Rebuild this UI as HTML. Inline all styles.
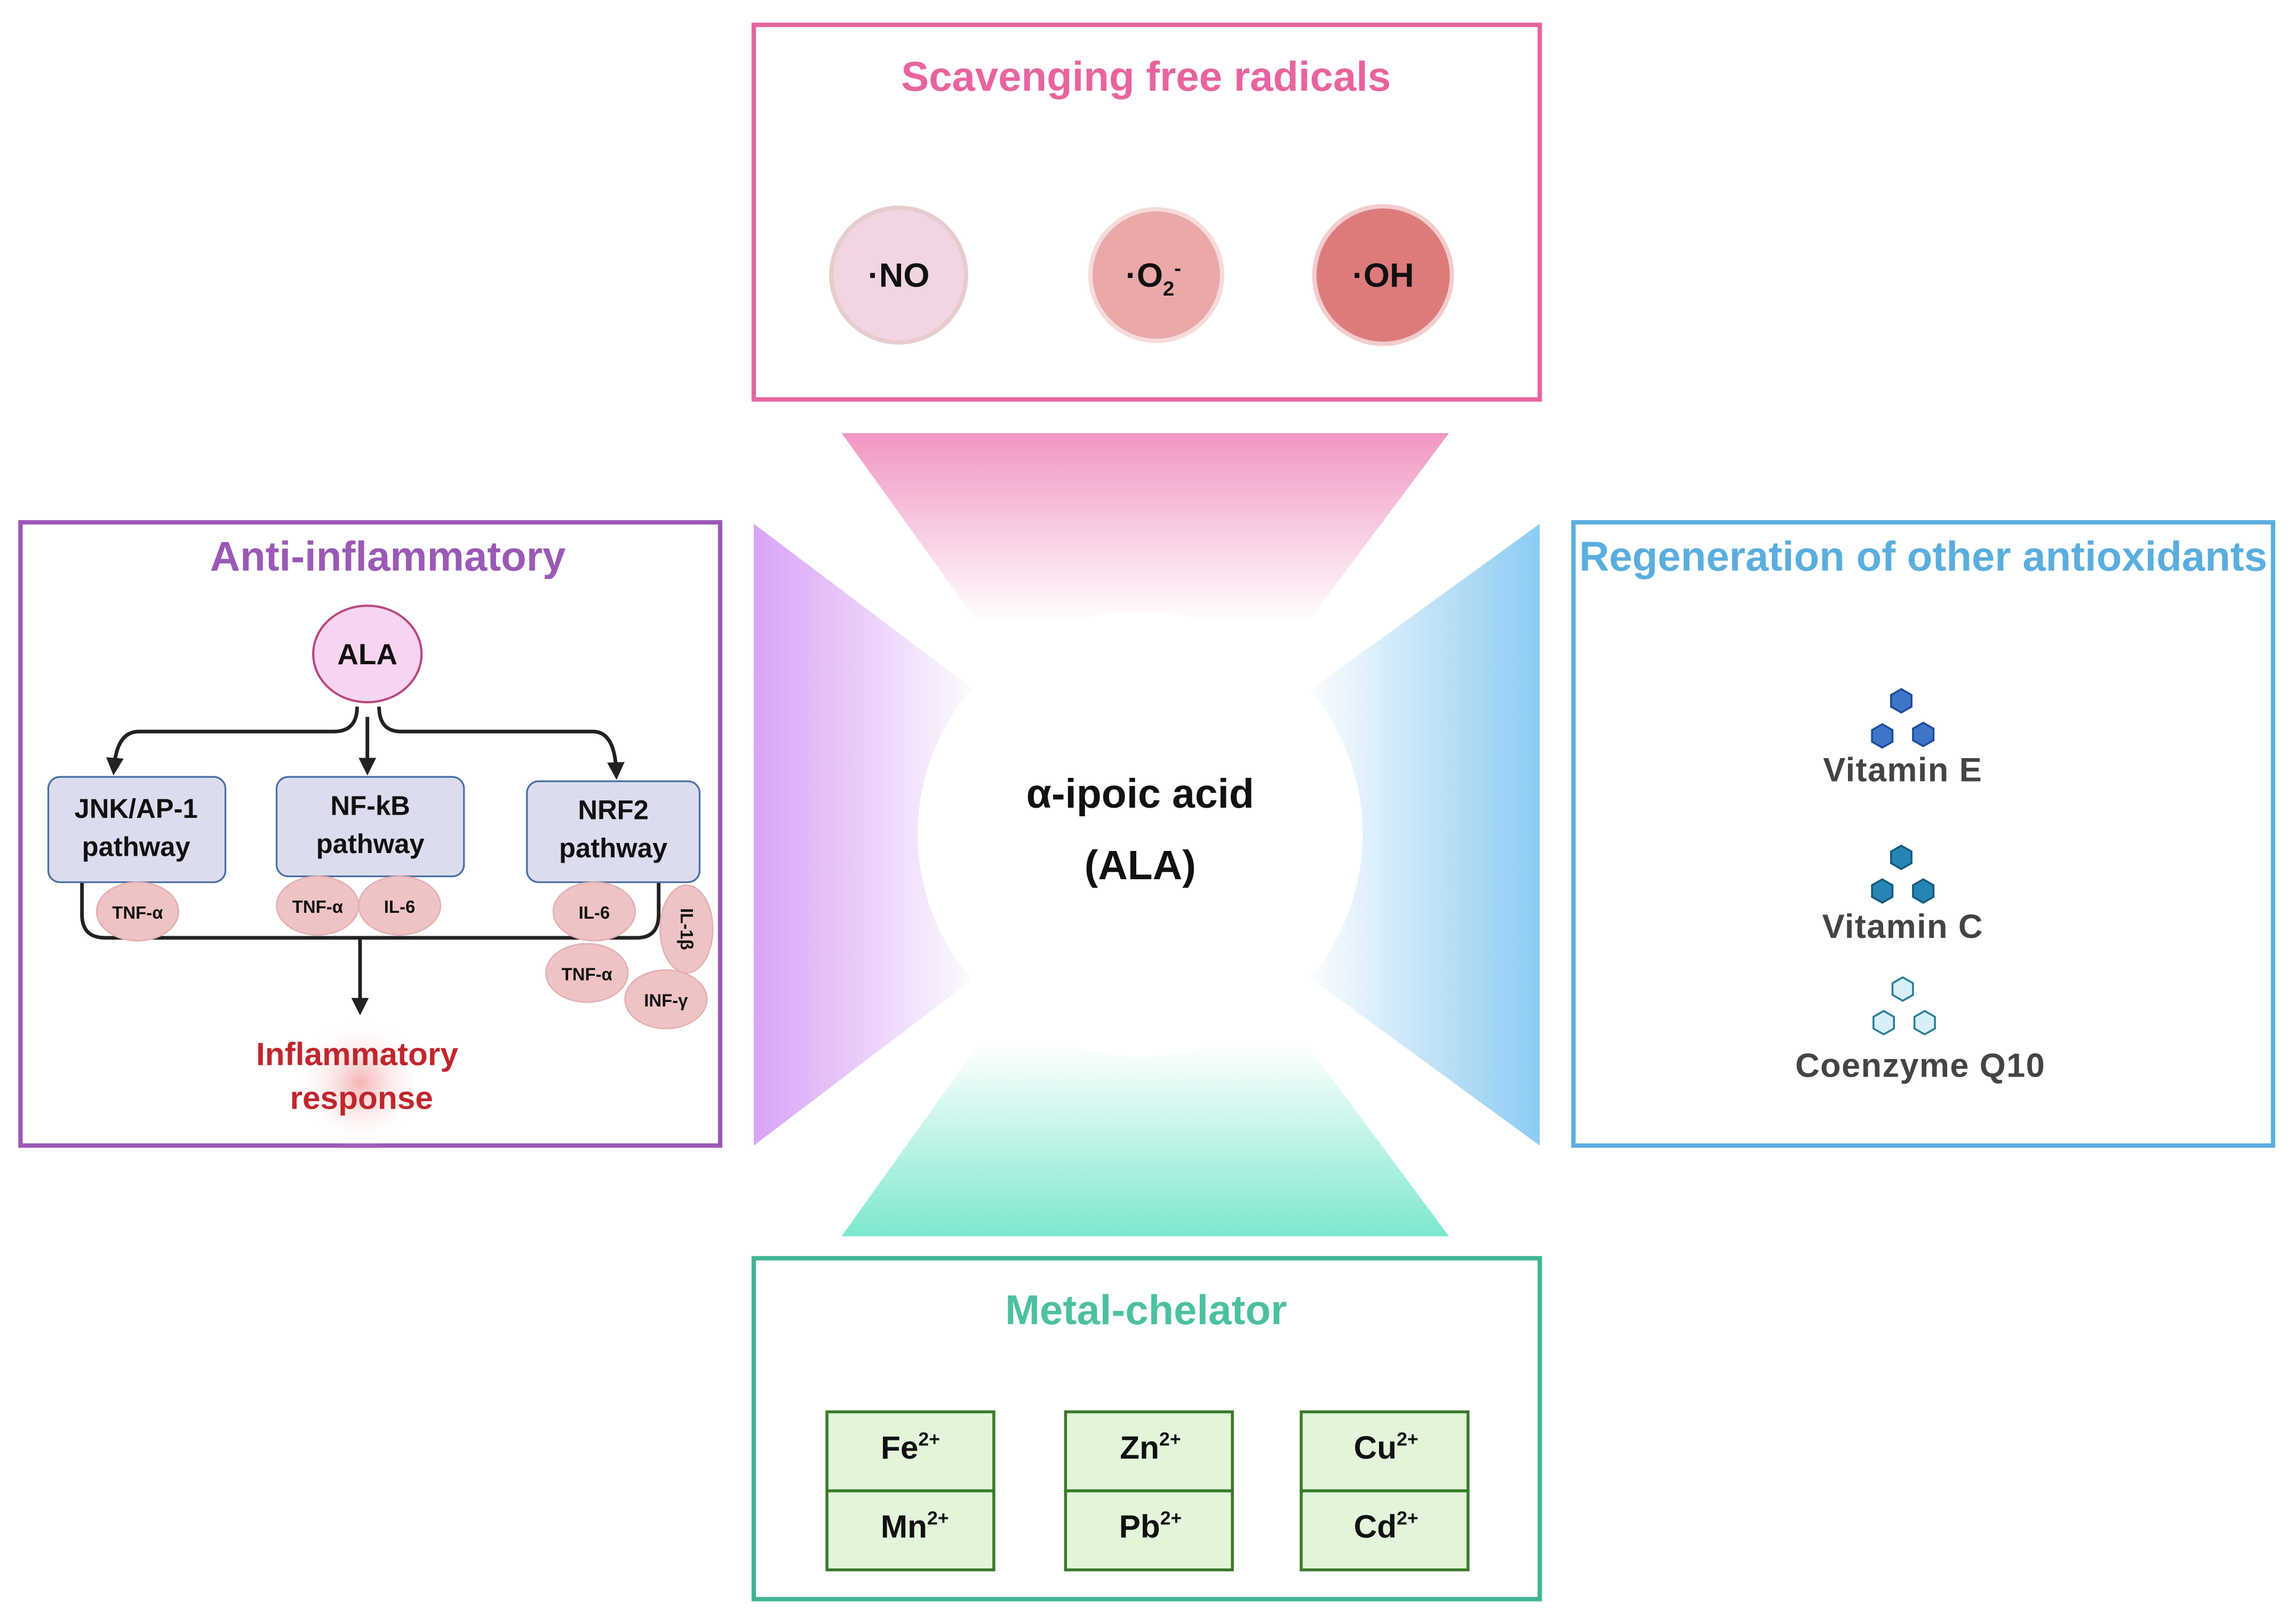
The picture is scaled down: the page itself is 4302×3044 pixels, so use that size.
<!DOCTYPE html>
<html><head><meta charset="utf-8"><style>html,body{margin:0;padding:0;background:#fff}svg{display:block}text{font-family:"Liberation Sans",Arial,sans-serif;font-weight:bold}</style></head>
<body>
<svg width="4302" height="3044" viewBox="0 0 1568 1110" preserveAspectRatio="none" xmlns="http://www.w3.org/2000/svg">
<defs>
<linearGradient id="gt" x1="0" y1="0" x2="0" y2="1"><stop offset="0" stop-color="#f196c4"/><stop offset="0.75" stop-color="#fff"/></linearGradient>
<linearGradient id="gb" x1="0" y1="1" x2="0" y2="0"><stop offset="0" stop-color="#7de8cf"/><stop offset="0.75" stop-color="#fff"/></linearGradient>
<linearGradient id="gl" x1="0" y1="0" x2="1" y2="0"><stop offset="0" stop-color="#d7a3f5"/><stop offset="0.9" stop-color="#fff"/></linearGradient>
<linearGradient id="gr" x1="1" y1="0" x2="0" y2="0"><stop offset="0" stop-color="#8dcbf2"/><stop offset="0.9" stop-color="#fff"/></linearGradient>
<radialGradient id="rg"><stop offset="0" stop-color="#f3a0a0" stop-opacity="0.8"/><stop offset="1" stop-color="#fff" stop-opacity="0"/></radialGradient>
<marker id="ah" markerWidth="12" markerHeight="12" refX="6" refY="6" orient="auto" markerUnits="userSpaceOnUse"><path d="M0,0 L12,6 L0,12z" fill="#222"/></marker>
</defs>
<rect width="1568" height="1110" fill="#fff"/>
<polygon points="575,296 990,296 860,470 700,470" fill="url(#gt)"/>
<polygon points="575,845 990,845 860,670 700,670" fill="url(#gb)"/>
<polygon points="515,358 515,783 690,650 690,490" fill="url(#gl)"/>
<polygon points="1052,358 1052,783 870,650 870,490" fill="url(#gr)"/>
<circle cx="779" cy="570" r="152" fill="#fff"/>
<text x="779" y="552" font-size="28" text-anchor="middle" fill="#111">α-ipoic acid</text>
<text x="779" y="601" font-size="28" text-anchor="middle" fill="#111">(ALA)</text>
<rect x="515" y="17" width="537" height="256" fill="none" stroke="#e8649f" stroke-width="3"/>
<text x="783" y="62" font-size="28.4" text-anchor="middle" fill="#e8649f">Scavenging free radicals</text>
<circle cx="614" cy="188" r="46" fill="#f1d5e3" stroke="#e6cccd" stroke-width="3"/>
<circle cx="790" cy="188" r="45" fill="#eaa8a8" stroke="#f7dada" stroke-width="3"/>
<circle cx="945" cy="188" r="47" fill="#dd7b7b" stroke="#f3cccc" stroke-width="3"/>
<text x="614" y="196" font-size="23" text-anchor="middle" fill="#111">·NO</text>
<text x="788" y="196" font-size="23" text-anchor="middle" fill="#111">·O<tspan font-size="14" dy="6">2</tspan><tspan font-size="14" dy="-14">-</tspan></text>
<text x="945" y="196" font-size="23" text-anchor="middle" fill="#111">·OH</text>
<rect x="14" y="357" width="478" height="426" fill="none" stroke="#9b59b6" stroke-width="3"/>
<text x="265" y="390" font-size="28.4" text-anchor="middle" fill="#9b59b6">Anti-inflammatory</text>
<ellipse cx="251" cy="447" rx="37" ry="33" fill="#f7d4ef" stroke="#b8487f" stroke-width="1.5"/>
<text x="251" y="454" font-size="20" text-anchor="middle" fill="#111">ALA</text>
<g fill="none" stroke="#222" stroke-width="2.5">
<path d="M244,483 Q244,500 228,500 L95,500 Q80,500 78,524" marker-end="url(#ah)"/>
<path d="M251,490 L251,524" marker-end="url(#ah)"/>
<path d="M259,483 Q259,500 274,500 L405,500 Q420,500 421,527" marker-end="url(#ah)"/>
<path d="M56,602 L56,625 Q56,641 72,641 L435,641 Q450,641 450,625 L450,602"/>
<path d="M246,641 L246,688" marker-end="url(#ah)"/>
</g>
<circle cx="246" cy="740" r="45" fill="url(#rg)"/>
<g fill="#dcdcef" stroke="#4a6fa5" stroke-width="1.2">
<rect x="33" y="531" width="121" height="72" rx="8"/>
<rect x="189" y="531" width="128" height="68" rx="8"/>
<rect x="360" y="534" width="118" height="69" rx="8"/>
</g>
<g font-size="18.5" text-anchor="middle" fill="#111">
<text x="93" y="559">JNK/AP-1</text><text x="93" y="585">pathway</text>
<text x="253" y="557">NF-kB</text><text x="253" y="583">pathway</text>
<text x="419" y="560">NRF2</text><text x="419" y="586">pathway</text>
</g>
<g fill="#efc3c3" stroke="#e4b0b0" stroke-width="1">
<ellipse cx="94" cy="623" rx="28" ry="20"/>
<ellipse cx="217" cy="619" rx="28" ry="20"/>
<ellipse cx="273" cy="619" rx="28" ry="20"/>
<ellipse cx="406" cy="623" rx="28" ry="20"/>
<ellipse cx="469" cy="635" rx="18" ry="30"/>
<ellipse cx="401" cy="665" rx="28" ry="20"/>
<ellipse cx="455" cy="683" rx="28" ry="20"/>
</g>
<g font-size="12" text-anchor="middle" fill="#111">
<text x="94" y="628">TNF-α</text><text x="217" y="624">TNF-α</text><text x="273" y="624">IL-6</text>
<text x="406" y="628">IL-6</text><text x="401" y="670">TNF-α</text><text x="455" y="688">INF-γ</text>
<text transform="translate(465,635) rotate(90)" text-anchor="middle" font-size="12">IL-1β</text>
</g>
<text x="244" y="728" font-size="22" text-anchor="middle" fill="#c0272d">Inflammatory</text>
<text x="247" y="758" font-size="22" text-anchor="middle" fill="#c0272d">response</text>
<rect x="1075" y="357" width="478" height="426" fill="none" stroke="#5aaede" stroke-width="3"/>
<text x="1314" y="390" font-size="28.4" text-anchor="middle" fill="#5aaede">Regeneration of other antioxidants</text>
<g stroke-width="1.3">
<g fill="#3d76c8" stroke="#1e4c9a">
<polygon points="1299,471 1306,475 1306,483 1299,487 1292,483 1292,475"/>
<polygon points="1286,495 1293,499 1293,507 1286,511 1279,507 1279,499"/>
<polygon points="1314,494 1321,498 1321,506 1314,510 1307,506 1307,498"/>
</g>
<g fill="#2585b4" stroke="#155a80">
<polygon points="1299,578 1306,582 1306,590 1299,594 1292,590 1292,582"/>
<polygon points="1286,601 1293,605 1293,613 1286,617 1279,613 1279,605"/>
<polygon points="1314,601 1321,605 1321,613 1314,617 1307,613 1307,605"/>
</g>
<g fill="#d8eff7" stroke="#2a7d99">
<polygon points="1300,668 1307,672 1307,680 1300,684 1293,680 1293,672"/>
<polygon points="1287,691 1294,695 1294,703 1287,707 1280,703 1280,695"/>
<polygon points="1315,691 1322,695 1322,703 1315,707 1308,703 1308,695"/>
</g>
</g>
<g font-size="23" text-anchor="middle" fill="#444" letter-spacing="0.5">
<text x="1300" y="534">Vitamin E</text>
<text x="1300" y="641">Vitamin C</text>
<text x="1312" y="736">Coenzyme Q10</text>
</g>
<rect x="515" y="860" width="537" height="233" fill="none" stroke="#3fb593" stroke-width="3"/>
<text x="783" y="905" font-size="28.4" text-anchor="middle" fill="#4cc0a0">Metal-chelator</text>
<g fill="#e2f4d9" stroke="#3a7a2a" stroke-width="2">
<rect x="565" y="965" width="114" height="54"/><rect x="565" y="1019" width="114" height="54"/>
<rect x="728" y="965" width="114" height="54"/><rect x="728" y="1019" width="114" height="54"/>
<rect x="889" y="965" width="114" height="54"/><rect x="889" y="1019" width="114" height="54"/>
</g>
<g font-size="22" text-anchor="middle" fill="#111">
<text x="622" y="997">Fe<tspan font-size="13" dy="-9">2+</tspan></text>
<text x="625" y="1051">Mn<tspan font-size="13" dy="-9">2+</tspan></text>
<text x="786" y="997">Zn<tspan font-size="13" dy="-9">2+</tspan></text>
<text x="786" y="1051">Pb<tspan font-size="13" dy="-9">2+</tspan></text>
<text x="947" y="997">Cu<tspan font-size="13" dy="-9">2+</tspan></text>
<text x="947" y="1051">Cd<tspan font-size="13" dy="-9">2+</tspan></text>
</g>
</svg>
</body></html>
